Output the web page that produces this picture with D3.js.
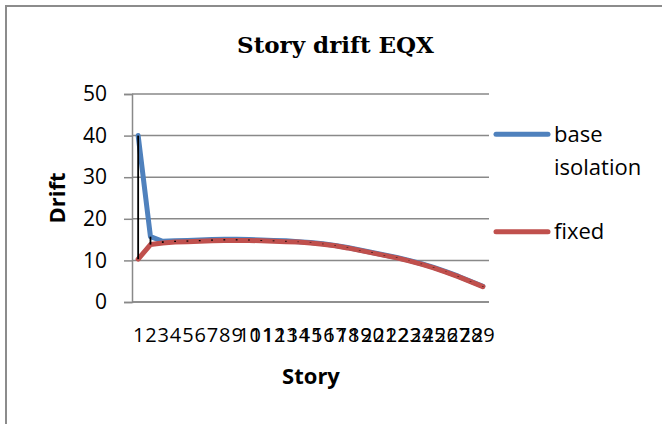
<!DOCTYPE html>
<html>
<head>
<meta charset="utf-8">
<script src="https://cdn.jsdelivr.net/npm/d3@7/dist/d3.min.js"></script>
<style>
  html, body { margin: 0; padding: 0; background: #fff; }
  svg { display: block; }
</style>
</head>
<body>
<div id="chart"></div>
<script>
// Story drift values
const stories = d3.range(1, 30).map(String)
const baseIsolation = [40, 15.7, 14.6, 14.7, 14.8, 14.9, 15.0, 15.1, 15.1, 15.0, 14.9, 14.8, 14.7, 14.5, 14.3, 14.0, 13.6, 13.1, 12.5, 11.9, 11.3, 10.7, 10.0, 9.2, 8.3, 7.3, 6.2, 5.0, 3.8]
const fixed = [10.3, 13.8, 14.2, 14.4, 14.5, 14.6, 14.7, 14.8, 14.8, 14.8, 14.7, 14.6, 14.5, 14.4, 14.2, 13.9, 13.5, 13.0, 12.4, 11.8, 11.2, 10.6, 9.9, 9.1, 8.2, 7.2, 6.1, 4.9, 3.7]
const yTicks = [0, 10, 20, 30, 40, 50]

const seriesList = [
  { name: ["base", "isolation"], values: baseIsolation, color: "#4f81bd" },
  { name: ["fixed"], values: fixed, color: "#c0504d" },
]

const W = 662, H = 424
const plot = { left: 132, right: 489, top: 94, bottom: 302 }
const GRID = "#898989"
const SANS = "'Open Sans', 'Noto Sans', sans-serif"

const svg = d3.select("#chart").append("svg")
  .attr("width", W)
  .attr("height", H)

// chart frame (right/bottom edges fall outside the picture)
svg.append("rect")
  .attr("x", 6).attr("y", 6)
  .attr("width", W + 20).attr("height", H + 20)
  .attr("fill", "#fff")
  .attr("stroke", "#8c8c8c")
  .attr("stroke-width", 2)

const x = d3.scalePoint()
  .domain(stories)
  .range([plot.left, plot.right])
  .padding(0.5)

const y = d3.scaleLinear()
  .domain([0, 50])
  .range([plot.bottom, plot.top])

// gridlines
svg.append("g")
  .selectAll("line")
  .data(yTicks)
  .join("line")
  .attr("x1", plot.left).attr("x2", plot.right)
  .attr("y1", d => y(d)).attr("y2", d => y(d))
  .attr("stroke", GRID)
  .attr("stroke-width", 1.5)

// y axis
const yAxis = svg.append("g")
  .attr("transform", `translate(${plot.left},0)`)
  .call(d3.axisLeft(y).tickValues(yTicks).tickSize(8).tickPadding(17))
yAxis.select(".domain").attr("stroke", GRID).attr("stroke-width", 1.5)
yAxis.selectAll(".tick line").attr("stroke", GRID).attr("stroke-width", 1.5)
yAxis.selectAll("text")
  .attr("font-family", SANS)
  .attr("font-size", "21px")
  .attr("fill", "#000")

// x axis
const xAxis = svg.append("g")
  .attr("transform", `translate(0,${plot.bottom})`)
  .call(d3.axisBottom(x).tickSize(0).tickPadding(26))
xAxis.select(".domain").attr("stroke", GRID).attr("stroke-width", 1.5)
  .attr("d", `M${plot.left},0H${plot.right}`)
xAxis.selectAll("text")
  .attr("font-family", SANS)
  .attr("font-size", "20px")
  .attr("fill", "#000")

// series lines
const line = d3.line()
  .x((d, i) => x(stories[i]))
  .y(d => y(d))

seriesList.forEach(s => {
  svg.append("path")
    .datum(s.values)
    .attr("d", line)
    .attr("fill", "none")
    .attr("stroke", s.color)
    .attr("stroke-width", 5)
    .attr("stroke-linejoin", "round")
    .attr("stroke-linecap", "round")
})

// high-low lines between the two series
svg.append("g")
  .selectAll("line")
  .data(stories)
  .join("line")
  .attr("x1", d => x(d)).attr("x2", d => x(d))
  .attr("y1", (d, i) => y(Math.max(baseIsolation[i], fixed[i])))
  .attr("y2", (d, i) => y(Math.min(baseIsolation[i], fixed[i])))
  .attr("stroke", "#000")
  .attr("stroke-width", 1.8)

// title
svg.append("text")
  .attr("x", 335.5).attr("y", 52.5)
  .attr("text-anchor", "middle")
  .attr("font-family", "'DejaVu Serif', serif")
  .attr("font-weight", "bold")
  .attr("font-size", "23px")
  .text("Story drift EQX")

// axis titles
svg.append("text")
  .attr("x", 311).attr("y", 384)
  .attr("text-anchor", "middle")
  .attr("font-family", SANS)
  .attr("font-weight", "bold")
  .attr("font-size", "22px")
  .text("Story")

svg.append("text")
  .attr("transform", `translate(65,${(plot.top + plot.bottom) / 2}) rotate(-90)`)
  .attr("text-anchor", "middle")
  .attr("font-family", SANS)
  .attr("font-weight", "bold")
  .attr("font-size", "22px")
  .text("Drift")

// legend
const legendRows = [134.3, 231.7]
seriesList.forEach((s, i) => {
  const g = svg.append("g").attr("transform", `translate(0,${legendRows[i]})`)
  g.append("line")
    .attr("x1", 496).attr("x2", 548)
    .attr("stroke", s.color)
    .attr("stroke-width", 5)
    .attr("stroke-linecap", "round")
  g.append("text")
    .attr("x", 554).attr("y", 7.5)
    .attr("font-family", SANS)
    .attr("font-size", "22px")
    .selectAll("tspan")
    .data(s.name)
    .join("tspan")
    .attr("x", 554)
    .attr("dy", (d, j) => j === 0 ? 0 : 33.3)
    .text(d => d)
})
</script>
</body>
</html>
